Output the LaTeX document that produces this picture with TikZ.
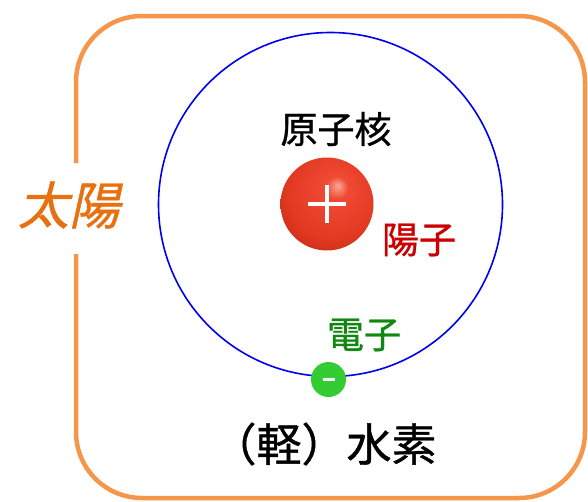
\documentclass[tikz,border=0pt]{standalone}
\usepackage{fontspec}
\newfontfamily\cjk[FakeBold=0.9]{Noto Sans CJK JP}
\newfontfamily\cjkslant[FakeSlant=0.22,FakeBold=0.9]{Noto Sans CJK JP}
\definecolor{frameorange}{HTML}{F5964A}
\definecolor{sunorange}{HTML}{E8700F}
\definecolor{protonred}{HTML}{CC0000}
\definecolor{electrongreen}{HTML}{118811}
\definecolor{ballgreen}{HTML}{33CC33}
\definecolor{orbitblue}{HTML}{0000F0}
\definecolor{ballhi}{HTML}{F8A898}
\definecolor{ballmid}{HTML}{F04A35}
\definecolor{ballbody}{HTML}{E23A22}
\definecolor{ballrim}{HTML}{B82010}
\definecolor{balledge}{HTML}{7A1008}
% red sphere with a soft highlight above centre
\pgfdeclareradialshading{redball}{\pgfpoint{6bp}{10bp}}{%
  color(0bp)=(ballhi);
  color(6bp)=(ballmid);
  color(24bp)=(ballbody);
  color(40bp)=(ballrim);
  color(52bp)=(balledge)}
\tikzset{
  label/.style={font=\cjk\fontsize{37}{37}\selectfont, inner sep=0pt},
  signbar/.style={draw=white, line width=4.5pt},
}
\begin{document}
\begin{tikzpicture}[x=1pt,y=-1pt]
\useasboundingbox (0,0) rectangle (588,501);
\fill[white] (0,0) rectangle (588,501);

% frame around the atom, open on the left where the title sits
\draw[frameorange, line width=4.5pt, rounded corners=66pt]
  (76,254) -- (76,498) -- (585,498) -- (585,16) -- (76,16) -- (76,163);
\node (sun) at (69,205) [inner sep=0pt, text=sunorange,
  font=\cjkslant\fontsize{51}{51}\selectfont] {太陽};

% orbit
\node (orbit) at (330.5,204.5) [circle, draw=orbitblue, line width=1.6pt,
  minimum size=344pt, inner sep=0pt] {};

% nucleus
\node (nucleus) at (327,204) [circle, minimum size=93pt, inner sep=0pt,
  shading=redball] {};
\draw[signbar] ([xshift=-19pt]nucleus.center) -- ([xshift=19pt]nucleus.center);
\draw[signbar] ([yshift=-19pt]nucleus.center) -- ([yshift=19pt]nucleus.center);

% electron
\node (electron) at (328.5,379.5) [circle, fill=ballgreen, minimum size=35pt,
  inner sep=0pt] {};
\draw[draw=white, line width=2.5pt] ([xshift=-6pt]electron.center) -- ([xshift=6pt]electron.center);

% labels
\node (nucleuslabel) at (336,129) [label] {原子核};
\node (protonlabel) at (419,240) [label, text=protonred] {陽子};
\node (electronlabel) at (364,335) [label, text=electrongreen] {電子};
\node (hydrogen) at (324,444) [inner sep=0pt,
  font=\cjk\fontsize{45}{45}\selectfont] {（軽）水素};
\end{tikzpicture}
\end{document}
